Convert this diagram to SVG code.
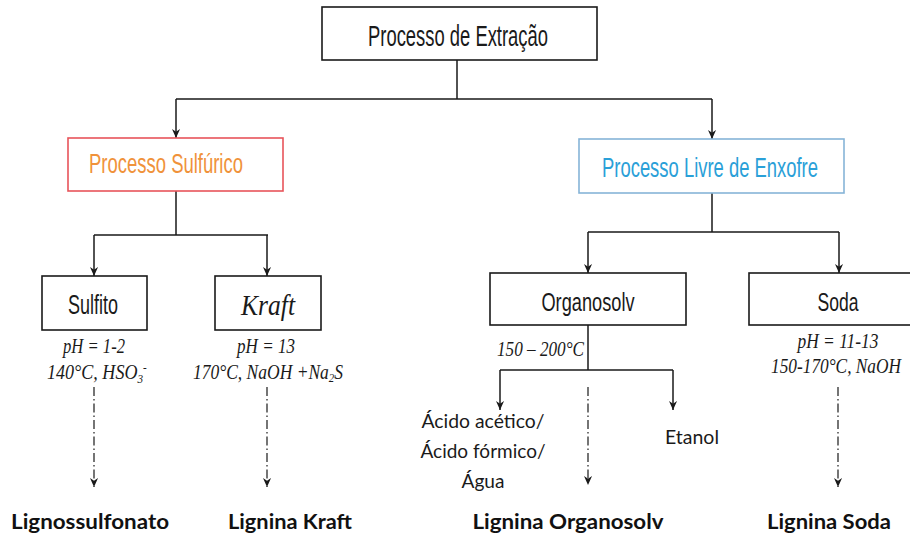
<svg xmlns="http://www.w3.org/2000/svg" width="910" height="535" viewBox="0 0 910 535">
<style>
.box{fill:#fff;stroke:#1a1a1a;stroke-width:1.6}
.red{fill:#fff;stroke:#e8545a;stroke-width:1.6}
.blue{fill:#fff;stroke:#86b4d8;stroke-width:1.6}
.sans{font-family:"Liberation Sans",Arial,sans-serif;fill:#1a1a1a}
.serif{font-family:"Liberation Serif","Times New Roman",serif;font-style:italic;fill:#1a1a1a}
.cal{font-family:Lato,"Open Sans",sans-serif;fill:#1a1a1a}
.bold{font-family:Lato,"Open Sans",sans-serif;font-weight:bold;fill:#111}
.ln{fill:none;stroke:#1a1a1a;stroke-width:1.5}
.arr{fill:none;stroke:#1a1a1a;stroke-width:1.5;marker-end:url(#ah)}
.dd{fill:none;stroke:#1a1a1a;stroke-width:1.2;stroke-dasharray:9 3 1.5 3;marker-end:url(#ah)}
</style>
<defs>
<marker id="ah" viewBox="0 0 10 10" refX="10" refY="5" markerWidth="9" markerHeight="9" markerUnits="userSpaceOnUse" orient="auto">
<path d="M0,0.5 L10,5 L0,9.5 L3,5 z" fill="#1a1a1a"/>
</marker>
</defs>
<rect width="910" height="535" fill="#fff"/>

<g id="connectors">
<path class="ln" d="M457,60 V99 M176,99 H712"/>
<path class="arr" d="M176,99 V138"/>
<path class="arr" d="M712,99 V139"/>
<path class="ln" d="M176,191 V235 M94,235 H268"/>
<path class="arr" d="M94,235 V276"/>
<path class="arr" d="M267,235 V276"/>
<path class="ln" d="M712,193 V232 M588,232 H839"/>
<path class="arr" d="M588,232 V273"/>
<path class="arr" d="M839,232 V273"/>
<path class="ln" d="M588,325 V370 M500,370 H673"/>
<path class="arr" d="M500,370 V410"/>
<path class="arr" d="M673,370 V410"/>
<path class="dd" d="M94,387 V487"/>
<path class="dd" d="M267,387 V487"/>
<path class="dd" d="M588,387 V485"/>
<path class="dd" d="M838,387 V487"/>
</g>

<g id="extracao">
<rect class="box" x="322" y="7" width="275" height="53"/>
<text class="sans" transform="translate(458,46) scale(0.613,1)" font-size="30" text-anchor="middle">Processo de Extração</text>
</g>

<g id="sulfurico">
<rect class="red" x="68" y="138" width="215" height="53"/>
<text transform="translate(166,173) scale(0.684,1)" font-family="Liberation Sans,Arial,sans-serif" font-size="27" fill="#f0923a" text-anchor="middle">Processo Sulfúrico</text>
</g>

<g id="livre">
<rect class="blue" x="579" y="139" width="265" height="54"/>
<text transform="translate(710,177) scale(0.658,1)" font-family="Liberation Sans,Arial,sans-serif" font-size="28" fill="#2aa0d8" text-anchor="middle">Processo Livre de Enxofre</text>
</g>

<g id="sulfito">
<rect class="box" x="42" y="276" width="105" height="54"/>
<text class="sans" transform="translate(93,314) scale(0.643,1)" font-size="28" text-anchor="middle">Sulfito</text>
<text class="serif" x="94" y="353" font-size="21" text-anchor="middle" textLength="62" lengthAdjust="spacingAndGlyphs">pH = 1-2</text>
<text class="serif" transform="translate(47,379) scale(0.86,1)" font-size="21">140°C, HSO<tspan font-size="13" dy="4">3</tspan><tspan font-size="13" dy="-12">-</tspan></text>
</g>

<g id="kraft">
<rect class="box" x="215" y="276" width="106" height="54"/>
<text class="serif" x="268" y="315" font-size="29" text-anchor="middle" textLength="54" lengthAdjust="spacingAndGlyphs">Kraft</text>
<text class="serif" x="266" y="353" font-size="21" text-anchor="middle" textLength="58" lengthAdjust="spacingAndGlyphs">pH = 13</text>
<text class="serif" transform="translate(193,379) scale(0.833,1)" font-size="21">170°C, NaOH +Na<tspan font-size="13" dy="3">2</tspan><tspan dy="-3">S</tspan></text>
</g>

<g id="organosolv">
<rect class="box" x="490" y="273" width="196" height="52"/>
<text class="sans" transform="translate(588,311) scale(0.70,1)" font-size="26" text-anchor="middle">Organosolv</text>
<text class="serif" x="497" y="356" font-size="21" textLength="87" lengthAdjust="spacingAndGlyphs">150 – 200°C</text>
</g>

<g id="soda">
<rect class="box" x="749" y="273" width="170" height="52"/>
<text class="sans" transform="translate(838,311) scale(0.675,1)" font-size="26" text-anchor="middle">Soda</text>
<text class="serif" x="838" y="348" font-size="21" text-anchor="middle" textLength="81" lengthAdjust="spacingAndGlyphs">pH = 11-13</text>
<text class="serif" transform="translate(836,373) scale(0.824,1)" font-size="21" text-anchor="middle">150-170°C, NaOH</text>
</g>

<g id="solventes">
<text class="cal" x="483" y="428" font-size="19" text-anchor="middle" textLength="123" lengthAdjust="spacingAndGlyphs">Ácido acético/</text>
<text class="cal" x="483" y="458" font-size="19" text-anchor="middle" textLength="125" lengthAdjust="spacingAndGlyphs">Ácido fórmico/</text>
<text class="cal" x="483" y="488" font-size="19" text-anchor="middle" textLength="43" lengthAdjust="spacingAndGlyphs">Água</text>
</g>

<g id="etanol">
<text class="cal" x="692" y="444" font-size="19" text-anchor="middle" textLength="54" lengthAdjust="spacingAndGlyphs">Etanol</text>
</g>

<g id="lignossulfonato"><text class="bold" x="90" y="529" font-size="20" text-anchor="middle" textLength="158" lengthAdjust="spacingAndGlyphs">Lignossulfonato</text></g>
<g id="lignina-kraft"><text class="bold" x="290" y="529" font-size="20" text-anchor="middle" textLength="124" lengthAdjust="spacingAndGlyphs">Lignina Kraft</text></g>
<g id="lignina-organosolv"><text class="bold" x="568" y="529" font-size="20" text-anchor="middle" textLength="191" lengthAdjust="spacingAndGlyphs">Lignina Organosolv</text></g>
<g id="lignina-soda"><text class="bold" x="829" y="529" font-size="20" text-anchor="middle" textLength="124" lengthAdjust="spacingAndGlyphs">Lignina Soda</text></g>
</svg>
